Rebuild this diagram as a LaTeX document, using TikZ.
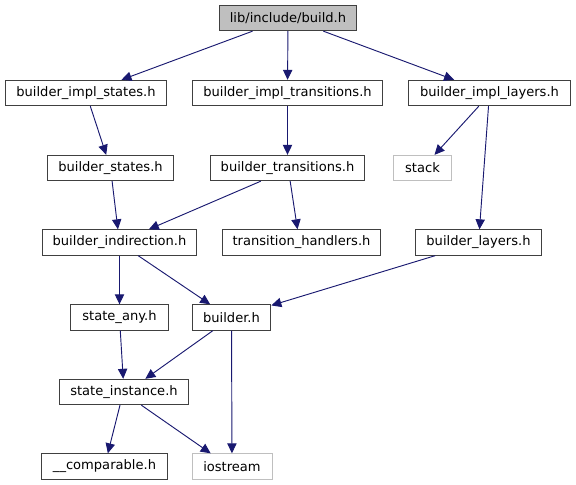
\documentclass[tikz,border=0pt]{standalone}
\usepackage{fontspec}
\setmainfont{DejaVu Sans}
\usetikzlibrary{arrows.meta}

\definecolor{edgeblue}{HTML}{191970}
\definecolor{rootgray}{HTML}{BFBFBF}
\definecolor{sysgray}{HTML}{BFBFBF}

\tikzset{
  file/.style={draw=black!75, line width=0.75pt, fill=white, minimum height=19pt,
    inner sep=0pt, font=\fontsize{9.8pt}{11pt}\selectfont},
  root/.style={file, fill=rootgray},
  sysfile/.style={file, draw=sysgray},
  incl/.style={draw=edgeblue, line width=0.7pt, -{Triangle[length=7.5pt,width=7pt]}},
}

\begin{document}
\begin{tikzpicture}[x=0.75pt, y=-0.75pt]
  \useasboundingbox (0,0) rectangle (576,485);
  % Files, row by row
  \node[root, minimum width=103pt] (build) at (288,18) {lib/include/build.h};
  \node[file, minimum width=121pt] (implstates) at (86,93) {builder\_impl\_states.h};
  \node[file, minimum width=143pt] (impltrans) at (287.5,93) {builder\_impl\_transitions.h};
  \node[file, minimum width=122pt] (impllayers) at (489.5,93) {builder\_impl\_layers.h};
  \node[file, minimum width=95pt] (states) at (110.5,168) {builder\_states.h};
  \node[file, minimum width=116pt] (trans) at (287.5,168) {builder\_transitions.h};
  \node[sysfile, minimum width=44pt] (stack) at (422.5,168) {stack};
  \node[file, minimum width=116pt] (indir) at (119.5,242.5) {builder\_indirection.h};
  \node[file, minimum width=119pt] (handlers) at (301.5,242.5) {transition\_handlers.h};
  \node[file, minimum width=95pt] (layers) at (478.5,242.5) {builder\_layers.h};
  \node[file, minimum width=73pt] (stateany) at (119.5,317.5) {state\_any.h};
  \node[file, minimum width=59pt] (builder) at (231.5,317.5) {builder.h};
  \node[file, minimum width=97pt] (instance) at (124,392) {state\_instance.h};
  \node[file, minimum width=94pt] (comparable) at (104.5,466.5) {\_\_comparable.h};
  \node[sysfile, minimum width=60pt] (iostream) at (232,466.5) {iostream};
  % Includes
  \draw[incl] (build) -- (implstates);
  \draw[incl] (build) -- (impltrans);
  \draw[incl] (build) -- (impllayers);
  \draw[incl] (implstates) -- (states);
  \draw[incl] (impltrans) -- (trans);
  \draw[incl] ([xshift=-8pt]impllayers.south) -- (stack);
  \draw[incl] (impllayers) -- (layers);
  \draw[incl] (states) -- (indir);
  \draw[incl] ([xshift=-20pt]trans.south) -- ([xshift=22pt]indir.north);
  \draw[incl] ([xshift=2pt]trans.south) -- ([xshift=-3pt]handlers.north);
  \draw[incl] (indir) -- (stateany);
  \draw[incl] ([xshift=14pt]indir.south) -- ([xshift=-16pt]builder.north);
  \draw[incl] (layers) -- (builder);
  \draw[incl] (stateany) -- (instance);
  \draw[incl] ([xshift=-14pt]builder.south) -- ([xshift=16pt]instance.north);
  \draw[incl] (builder) -- (iostream);
  \draw[incl] ([xshift=-3pt]instance.south) -- (comparable);
  \draw[incl] ([xshift=13pt]instance.south) -- ([xshift=-16pt]iostream.north);
\end{tikzpicture}
\end{document}
